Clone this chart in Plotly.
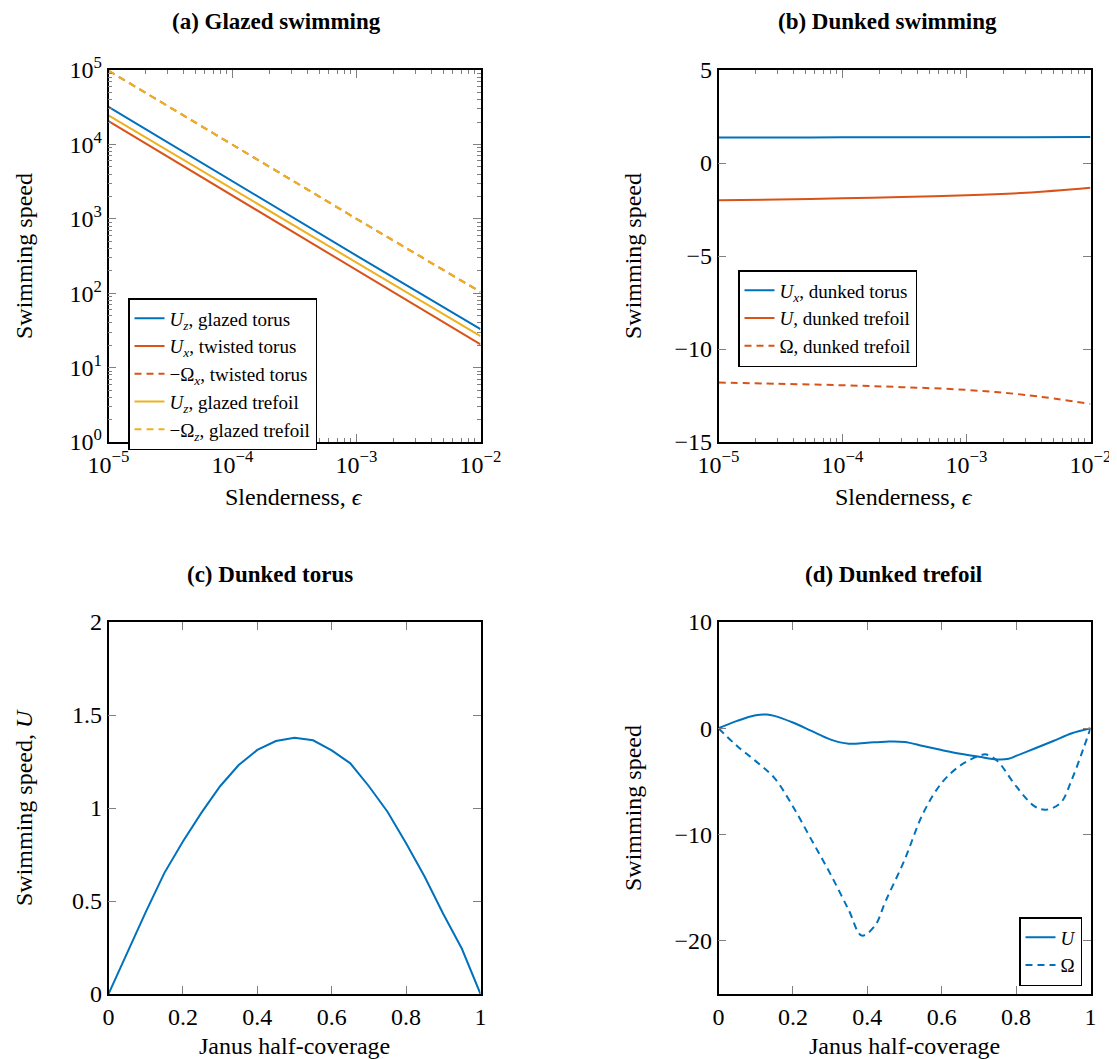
import plotly.graph_objects as go

# ---------------- data ----------------
# (a) Glazed swimming (log-log)
eps_a = [1e-5, 1e-4, 1e-3, 1e-2]
uz_glazed_torus = [3.2e4, 3.2e3, 3.2e2, 33]
ux_twisted_torus = [2.05e4, 2.05e3, 2.05e2, 20.5]
om_twisted_torus = [9.8e4, 9.9e3, 1.0e3, 104]
uz_glazed_trefoil = [2.45e4, 2.5e3, 2.55e2, 26.5]
om_glazed_trefoil = [9.8e4, 9.9e3, 1.0e3, 104]

# (b) Dunked swimming
eps_b = [1e-5, 3e-5, 1e-4, 3e-4, 1e-3, 3e-3, 1e-2]
ux_dunked_torus = [1.37, 1.37, 1.38, 1.38, 1.39, 1.39, 1.40]
u_dunked_trefoil = [-2.0, -1.96, -1.90, -1.83, -1.74, -1.60, -1.33]
om_dunked_trefoil = [-11.8, -11.87, -11.95, -12.05, -12.2, -12.47, -12.95]

# (c) Dunked torus
cov_c = [0, 0.05, 0.1, 0.15, 0.2, 0.25, 0.3, 0.35, 0.4, 0.45, 0.5,
         0.55, 0.6, 0.65, 0.7, 0.75, 0.8, 0.85, 0.9, 0.95, 1.0]
u_torus = [0, 0.22, 0.44, 0.65, 0.82, 0.975, 1.117, 1.231, 1.312, 1.36, 1.378,
           1.364, 1.31, 1.24, 1.117, 0.98, 0.81, 0.63, 0.43, 0.243, 0]

# (d) Dunked trefoil
cov_d = [0, 0.05, 0.1, 0.13, 0.15, 0.2, 0.25, 0.3, 0.35, 0.4, 0.45, 0.5,
         0.55, 0.6, 0.65, 0.7, 0.75, 0.78, 0.8, 0.85, 0.9, 0.95, 1.0]
u_trefoil = [0, 0.7, 1.23, 1.3, 1.17, 0.54, -0.25, -1.04, -1.45, -1.36, -1.26, -1.29,
             -1.67, -2.05, -2.4, -2.68, -2.93, -2.87, -2.6, -1.9, -1.2, -0.47, 0]
cov_d_om = [0, 0.05, 0.1, 0.15, 0.2, 0.25, 0.3, 0.35, 0.385, 0.42, 0.45, 0.5,
            0.55, 0.6, 0.65, 0.7, 0.72, 0.75, 0.8, 0.85, 0.88, 0.92, 0.95, 0.98, 1.0]
om_trefoil = [0, -1.67, -3.09, -4.67, -7.35, -10.5, -13.65, -17.1, -19.5, -18.6, -16.2, -12.4,
              -8.0, -5.14, -3.5, -2.6, -2.46, -3.09, -5.45, -7.35, -7.66, -7.0, -4.8, -2.0, 0]

# log tick labels
exp_x = [-5, -4, -3, -2]
exp_y = [0, 1, 2, 3, 4, 5]

# ---------------- style ----------------
BLUE = "#0072BD"
RED = "#D95319"
YEL = "#EDB120"
FONT = "Liberation Serif, DejaVu Serif, serif"
OFF = 8                      # page body margin
W, H = 1117 - OFF, 1059 - OFF
DASH = "7px,5px"

def fx(p):
    return (p - OFF) / W

def fy(p):
    return 1 - (p - OFF) / H

fig = go.Figure()

def add(x, y, color, dash, name, xa, ya, legend, showlegend=True, shape="linear"):
    fig.add_trace(go.Scatter(
        x=x, y=y, mode="lines", name=name,
        line=dict(color=color, width=2, dash=dash, shape=shape),
        xaxis=xa, yaxis=ya, legend=legend, showlegend=showlegend))

# (a)
add(eps_a, uz_glazed_torus, BLUE, "solid", "<i>U<sub>z</sub></i>, glazed torus", "x", "y", "legend")
add(eps_a, ux_twisted_torus, RED, "solid", "<i>U<sub>x</sub></i>, twisted torus", "x", "y", "legend")
add(eps_a, om_twisted_torus, RED, DASH, "−Ω<sub><i>x</i></sub>, twisted torus", "x", "y", "legend")
add(eps_a, uz_glazed_trefoil, YEL, "solid", "<i>U<sub>z</sub></i>, glazed trefoil", "x", "y", "legend")
add(eps_a, om_glazed_trefoil, YEL, DASH, "−Ω<sub><i>z</i></sub>, glazed trefoil", "x", "y", "legend")

# (b)
add(eps_b, ux_dunked_torus, BLUE, "solid", "<i>U<sub>x</sub></i>, dunked torus", "x2", "y2", "legend2", shape="spline")
add(eps_b, u_dunked_trefoil, RED, "solid", "<i>U</i>, dunked trefoil", "x2", "y2", "legend2", shape="spline")
add(eps_b, om_dunked_trefoil, RED, DASH, "Ω, dunked trefoil", "x2", "y2", "legend2", shape="spline")

# (c)
add(cov_c, u_torus, BLUE, "solid", "U", "x3", "y3", "legend", showlegend=False)

# (d)
add(cov_d, u_trefoil, BLUE, "solid", "<i>U</i>", "x4", "y4", "legend3", shape="spline")
add(cov_d_om, om_trefoil, BLUE, DASH, "Ω", "x4", "y4", "legend3", shape="spline")

tickfont = dict(family=FONT, size=24, color="black")
common = dict(showline=True, linecolor="black", linewidth=1.5, mirror="ticks",
              ticks="inside", tickcolor="#808080", ticklen=8, tickwidth=1,
              showgrid=False, zeroline=False, tickfont=tickfont, automargin=False)

minor_vals_x = [m * 10 ** e for e in range(-5, -2) for m in range(2, 10)]
minor_vals_y = [m * 10 ** e for e in range(0, 5) for m in range(2, 10)]
minor_style = dict(ticks="inside", ticklen=4, tickcolor="#808080", tickwidth=1, showgrid=False)

xa_a = [fx(108.5), fx(480.5)]
xa_b = [fx(718.5), fx(1090.5)]
ya_top = [fy(442), fy(70)]
ya_bot = [fy(994), fy(622)]

fig.update_layout(
    xaxis=dict(domain=xa_a, anchor="y", type="log", range=[-5, -2],
               tickvals=[10 ** e for e in exp_x],
               ticktext=[f"10<sup>−{-e}</sup>" for e in exp_x],
               minor=dict(tickvals=minor_vals_x, **minor_style), **common),
    yaxis=dict(domain=ya_top, anchor="x", type="log", range=[0, 5],
               tickvals=[10 ** e for e in exp_y],
               ticktext=[f"10<sup>{e}</sup>" for e in exp_y],
               minor=dict(tickvals=minor_vals_y, **minor_style), **common),
    xaxis2=dict(domain=xa_b, anchor="y2", type="log", range=[-5, -2],
                tickvals=[10 ** e for e in exp_x],
                ticktext=[f"10<sup>−{-e}</sup>" for e in exp_x],
                minor=dict(tickvals=minor_vals_x, **minor_style), **common),
    yaxis2=dict(domain=ya_top, anchor="x2", range=[-15, 5],
                tickvals=[-15, -10, -5, 0, 5],
                ticktext=["−15", "−10", "−5", "0", "5"], **common),
    xaxis3=dict(domain=xa_a, anchor="y3", range=[0, 1],
                tickvals=[0, 0.2, 0.4, 0.6, 0.8, 1],
                ticktext=["0", "0.2", "0.4", "0.6", "0.8", "1"], **common),
    yaxis3=dict(domain=ya_bot, anchor="x3", range=[0, 2],
                tickvals=[0, 0.5, 1, 1.5, 2],
                ticktext=["0", "0.5", "1", "1.5", "2"], **common),
    xaxis4=dict(domain=xa_b, anchor="y4", range=[0, 1],
                tickvals=[0, 0.2, 0.4, 0.6, 0.8, 1],
                ticktext=["0", "0.2", "0.4", "0.6", "0.8", "1"], **common),
    yaxis4=dict(domain=ya_bot, anchor="x4", range=[-25, 10],
                tickvals=[-20, -10, 0, 10],
                ticktext=["−20", "−10", "0", "10"], **common),
)

legend_common = dict(font=dict(family=FONT, size=19, color="black"),
                     bgcolor="white", bordercolor="black", borderwidth=1.5,
                     xref="paper", yref="paper", tracegroupgap=0,
                     itemwidth=30)
fig.update_layout(
    legend=dict(x=fx(128), y=fy(298), xanchor="left", yanchor="top", **legend_common),
    legend2=dict(x=fx(738), y=fy(270), xanchor="left", yanchor="top", **legend_common),
    legend3=dict(x=fx(1082), y=fy(986), xanchor="right", yanchor="bottom", **legend_common),
)

annots = []
def text(x, y, s, size=24, bold=False, angle=0):
    annots.append(dict(x=fx(x), y=fy(y), xref="paper", yref="paper", text=(f"<b>{s}</b>" if bold else s),
                       showarrow=False, textangle=angle, xanchor="center", yanchor="middle",
                       font=dict(family=FONT, size=size, color="black")))

text(276, 22, "(a) Glazed swimming", size=23, bold=True)
text(887, 22, "(b) Dunked swimming", size=23, bold=True)
text(270, 574, "(c) Dunked torus", size=23, bold=True)
text(893, 574, "(d) Dunked trefoil", size=23, bold=True)
text(24, 256, "Swimming speed", angle=-90)
text(633, 256, "Swimming speed", angle=-90)
text(24, 808, "Swimming speed, <i>U</i>", angle=-90)
text(633, 808, "Swimming speed", angle=-90)
text(294, 497, "Slenderness, <i>ϵ</i>")
text(904, 497, "Slenderness, <i>ϵ</i>")
text(294, 1046, "Janus half-coverage")
text(904, 1046, "Janus half-coverage")

fig.update_layout(width=W, height=H, margin=dict(l=0, r=0, t=0, b=0, autoexpand=False),
                  paper_bgcolor="white", plot_bgcolor="white",
                  annotations=annots, showlegend=True)

fig.write_html("out.html")
